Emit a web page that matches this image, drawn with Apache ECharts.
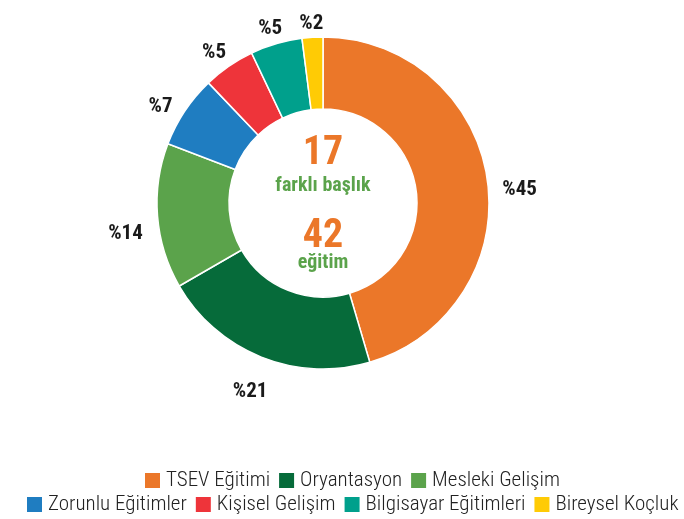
<!DOCTYPE html>
<html>
<head>
<meta charset="utf-8">
<script src="https://cdn.jsdelivr.net/npm/echarts@6/dist/echarts.min.js"></script>
<style>
  html, body { margin: 0; padding: 0; background: #fff; }
  #main { width: 684px; height: 519px; }
</style>
</head>
<body>
<div id="main"></div>
<script>
// data
var categories = ['TSEV Eğitimi', 'Oryantasyon', 'Mesleki Gelişim', 'Zorunlu Eğitimler', 'Kişisel Gelişim', 'Bilgisayar Eğitimleri', 'Bireysel Koçluk']
var values = [45, 21, 14, 7, 5, 5, 2]
var colors = ['#EB7729', '#066B3A', '#5BA34B', '#1F7DC1', '#EE343A', '#00A08C', '#FFCB05']
var legendRow1 = categories.slice(0, 3)
var legendRow2 = categories.slice(3)
var centerLines = ['17', 'farklı başlık', '42', 'eğitim']

var font = '"Roboto Condensed", "Open Sans Condensed", sans-serif'
var pieCenter = [323, 203]
var outerR = 166

var myChart = echarts.init(document.getElementById('main'))

// put each label centred on its slice's middle ray, a small gap outside the ring
function placeLabel (params) {
  var p = params.labelLinePoints
  var r = params.labelRect
  if (!p) return {}
  var dx = p[0][0] - pieCenter[0]
  var dy = p[0][1] - pieCenter[1]
  var len = Math.sqrt(dx * dx + dy * dy)
  var ux = dx / len
  var uy = dy / len
  var up = Math.max(0, -uy)
  var gap = 14 - 7 * Math.pow(up, 4)
  var ext = r.width / 2 * Math.abs(ux) + r.height / 2 * Math.abs(uy)
  var t = outerR + gap + ext
  return {
    x: pieCenter[0] + ux * t,
    y: pieCenter[1] + uy * t + 5 + 10 * ux * ux,
    align: 'center',
    verticalAlign: 'middle'
  }
}

var legendBase = {
  icon: 'rect',
  itemWidth: 17,
  itemHeight: 17,
  itemGap: 7,
  padding: 0,
  width: 700,
  textStyle: { fontFamily: font, fontSize: 21, fontWeight: 300, color: '#222' }
}

function centerText (text, y, size, color) {
  return {
    type: 'text',
    x: pieCenter[0],
    y: y,
    style: {
      text: text,
      fontFamily: font,
      fontWeight: 'bold',
      fontSize: size,
      fill: color,
      align: 'center',
      verticalAlign: 'middle'
    }
  }
}

var option = {
  animation: false,
  color: colors,
  legend: [
    Object.assign({}, legendBase, { data: legendRow1, left: 143, top: 470 }),
    Object.assign({}, legendBase, { data: legendRow2, left: 25, top: 494 })
  ],
  graphic: [
    centerText(centerLines[0], 154, 40, '#EB7729'),
    centerText(centerLines[1], 186, 20, '#5BA34B'),
    centerText(centerLines[2], 237, 40, '#EB7729'),
    centerText(centerLines[3], 263, 20, '#5BA34B')
  ],
  series: [
    {
      type: 'pie',
      center: pieCenter,
      radius: [94, outerR],
      startAngle: 90,
      clockwise: true,
      avoidLabelOverlap: false,
      itemStyle: { borderColor: '#fff', borderWidth: 1.5 },
      label: {
        show: true,
        position: 'outside',
        formatter: function (p) { return '%' + p.value },
        fontFamily: font,
        fontWeight: 'bold',
        fontSize: 21,
        color: '#1a1a1a'
      },
      labelLine: { show: false, length: 10, length2: 0 },
      labelLayout: placeLabel,
      emphasis: { disabled: true },
      data: categories.map(function (name, i) {
        return { name: name, value: values[i] }
      })
    }
  ]
}

myChart.setOption(option)
</script>
</body>
</html>
